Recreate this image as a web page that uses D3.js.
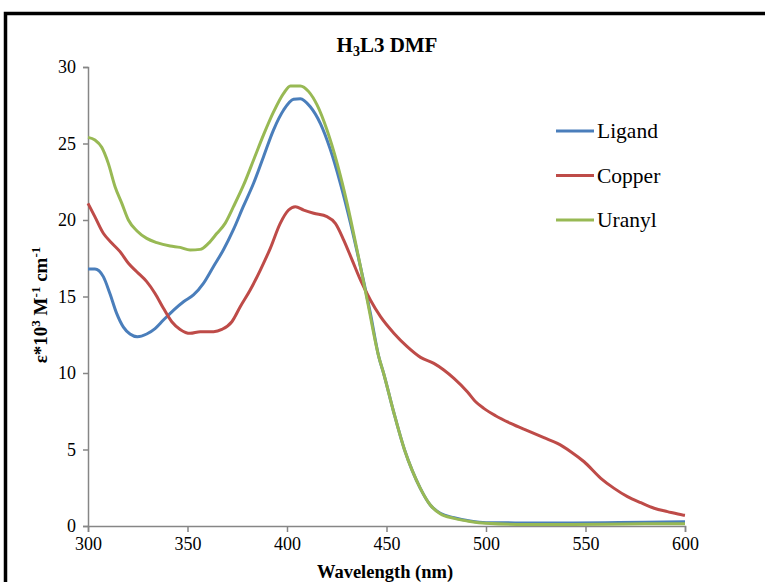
<!DOCTYPE html>
<html>
<head>
  <meta charset="utf-8">
  <title>H3L3 DMF</title>
  <script src="https://d3js.org/d3.v7.min.js"></script>
  <style>
    body { margin: 0; background: #fff; }
    text { font-family: "Liberation Serif", "Times New Roman", serif; fill: #000; }
    .axis path, .axis line { stroke: #868686; stroke-width: 1.5px; }
    .series { fill: none; stroke-width: 3px; stroke-linejoin: round; }
  </style>
</head>
<body>
<script>
  const width = 765;
  const height = 582;

  // wavelength (nm) / epsilon*10^3 readings
  const ligandWl = [300, 303.5, 307.7, 311, 314.4, 317.8, 321.1, 324.8, 329.5, 333.7, 337.9, 342.9, 348, 353, 358, 363, 368, 373, 378, 383.2, 388.2, 393.2, 398.3, 403.3, 406.7, 411.7, 416.8, 421.8, 426.8, 431.9, 436.9, 441.9, 446.1, 448.5, 453.5, 459, 463, 467, 472, 477, 484, 492, 500, 520, 540, 560, 580, 600];
  const ligandEps = [16.8, 16.8, 16.3, 15.2, 13.9, 13.0, 12.55, 12.37, 12.55, 12.9, 13.46, 14.1, 14.66, 15.1, 15.86, 16.95, 18.04, 19.35, 20.87, 22.4, 24.14, 25.88, 27.19, 27.89, 27.93, 27.4, 26.3, 24.6, 22.4, 19.8, 16.95, 13.9, 11.07, 10.0, 7.5, 5.0, 3.6, 2.46, 1.37, 0.83, 0.54, 0.33, 0.22, 0.2, 0.2, 0.22, 0.25, 0.28];

  const copperWl = [300, 303.5, 307.7, 311.9, 316.1, 320.3, 324.5, 329.5, 333.7, 337.9, 342.1, 346.3, 351.3, 356.4, 363.1, 367.3, 372.3, 376.5, 381.5, 386.6, 391.6, 396.6, 400.8, 404.2, 408.4, 413.4, 420.1, 424.3, 428.5, 432.7, 436.9, 441.9, 447, 453.7, 460.4, 467.1, 473.8, 478.8, 483.9, 490.6, 494.8, 498.9, 504.8, 512.4, 520.8, 529.1, 535.9, 542.6, 549.3, 557.7, 564.4, 571.1, 577.8, 584.5, 591.2, 598.8, 600];
  const copperEps = [21.09, 20.2, 19.13, 18.5, 17.93, 17.17, 16.62, 15.97, 15.2, 14.23, 13.35, 12.85, 12.59, 12.7, 12.7, 12.85, 13.35, 14.33, 15.42, 16.73, 18.15, 19.78, 20.65, 20.87, 20.65, 20.44, 20.22, 19.78, 18.69, 17.39, 16.08, 14.77, 13.68, 12.6, 11.72, 11.02, 10.63, 10.2, 9.65, 8.78, 8.12, 7.69, 7.21, 6.71, 6.23, 5.77, 5.4, 4.86, 4.2, 3.12, 2.46, 1.92, 1.52, 1.16, 0.94, 0.72, 0.7];

  const uranylWl = [300, 303.5, 306.9, 310.2, 313.6, 317, 320.3, 324.5, 329.5, 334.6, 341.3, 346.3, 351.3, 356.4, 360.5, 364.8, 368.9, 373.1, 378.2, 383.2, 388.2, 393.3, 398.3, 401.7, 406.7, 410.9, 415.1, 420.1, 425.2, 430.2, 435.2, 440.3, 446.1, 448.5, 453.5, 459, 463, 467, 472, 477, 484, 492, 500, 520, 540, 560, 580, 600];
  const uranylEps = [25.4, 25.23, 24.75, 23.7, 22.18, 21.09, 20.0, 19.3, 18.8, 18.52, 18.3, 18.21, 18.04, 18.08, 18.47, 19.13, 19.78, 20.87, 22.29, 23.92, 25.56, 27.08, 28.28, 28.76, 28.76, 28.39, 27.52, 25.88, 23.7, 21.09, 18.04, 14.77, 11.07, 10.0, 7.5, 5.0, 3.6, 2.46, 1.37, 0.8, 0.5, 0.3, 0.18, 0.1, 0.1, 0.12, 0.14, 0.15];

  const seriesNames = ["Ligand", "Copper", "Uranyl"];
  const seriesColors = ["#4a7ebb", "#be4b48", "#98b954"];
  const xTicks = [300, 350, 400, 450, 500, 550, 600];
  const yTicks = [0, 5, 10, 15, 20, 25, 30];

  const series = [
    {name: seriesNames[0], color: seriesColors[0], pts: d3.zip(ligandWl, ligandEps)},
    {name: seriesNames[1], color: seriesColors[1], pts: d3.zip(copperWl, copperEps)},
    {name: seriesNames[2], color: seriesColors[2], pts: d3.zip(uranylWl, uranylEps)}
  ];

  const serif = "'Liberation Serif', 'Times New Roman', serif";

  const svg = d3.select("body")
    .append("svg")
    .attr("width", width)
    .attr("height", height);

  // outer frame, runs off the right and bottom edges
  svg.append("rect")
    .attr("x", 5.5)
    .attr("y", 13.5)
    .attr("width", 800)
    .attr("height", 620)
    .attr("fill", "none")
    .attr("stroke", "#000")
    .attr("stroke-width", 3.5);

  const x = d3.scaleLinear().domain([300, 600]).range([88, 685]);
  const y = d3.scaleLinear().domain([0, 30]).range([526, 67]);

  svg.append("g")
    .attr("class", "axis")
    .attr("transform", "translate(0,526)")
    .call(d3.axisBottom(x).tickValues(xTicks).tickSize(6).tickPadding(5))
    .attr("font-family", serif)
    .attr("font-size", 18)
    .call(g => g.selectAll("text").attr("fill", "#000"));

  svg.append("g")
    .attr("class", "axis")
    .attr("transform", "translate(88,0)")
    .call(d3.axisLeft(y).tickValues(yTicks).tickSize(5).tickPadding(7))
    .attr("font-family", serif)
    .attr("font-size", 18)
    .call(g => g.selectAll("text").attr("fill", "#000"));

  const line = d3.line()
    .x(d => x(d[0]))
    .y(d => y(d[1]))
    .curve(d3.curveMonotoneX);

  svg.selectAll("path.series")
    .data(series)
    .join("path")
    .attr("class", "series")
    .attr("stroke", d => d.color)
    .attr("d", d => line(d.pts));

  // title
  const title = svg.append("text")
    .attr("x", 387)
    .attr("y", 52)
    .attr("text-anchor", "middle")
    .attr("font-size", 21)
    .attr("font-weight", "bold");
  title.append("tspan").text("H");
  title.append("tspan").attr("font-size", 14).attr("dy", 4).text("3");
  title.append("tspan").attr("dy", -4).text("L3 DMF");

  // axis titles
  svg.append("text")
    .attr("x", 385)
    .attr("y", 578)
    .attr("text-anchor", "middle")
    .attr("font-size", 18.5)
    .attr("font-weight", "bold")
    .text("Wavelength (nm)");

  const yl = svg.append("text")
    .attr("transform", "translate(47,305) rotate(-90)")
    .attr("text-anchor", "middle")
    .attr("font-size", 19)
    .attr("font-weight", "bold");
  yl.append("tspan").text("ε*10");
  yl.append("tspan").attr("font-size", 13).attr("dy", -7).text("3");
  yl.append("tspan").attr("dy", 7).text(" M");
  yl.append("tspan").attr("font-size", 13).attr("dy", -7).text("-1");
  yl.append("tspan").attr("dy", 7).text(" cm");
  yl.append("tspan").attr("font-size", 13).attr("dy", -7).text("-1");

  // legend
  const legend = svg.append("g")
    .selectAll("g")
    .data(series)
    .join("g")
    .attr("transform", (d, i) => `translate(556,${131 + i * 44.5})`);

  legend.append("line")
    .attr("x2", 38)
    .attr("stroke", d => d.color)
    .attr("stroke-width", 3);

  legend.append("text")
    .attr("x", 41)
    .attr("y", 7)
    .attr("font-size", 21.5)
    .text(d => d.name);
</script>
</body>
</html>
